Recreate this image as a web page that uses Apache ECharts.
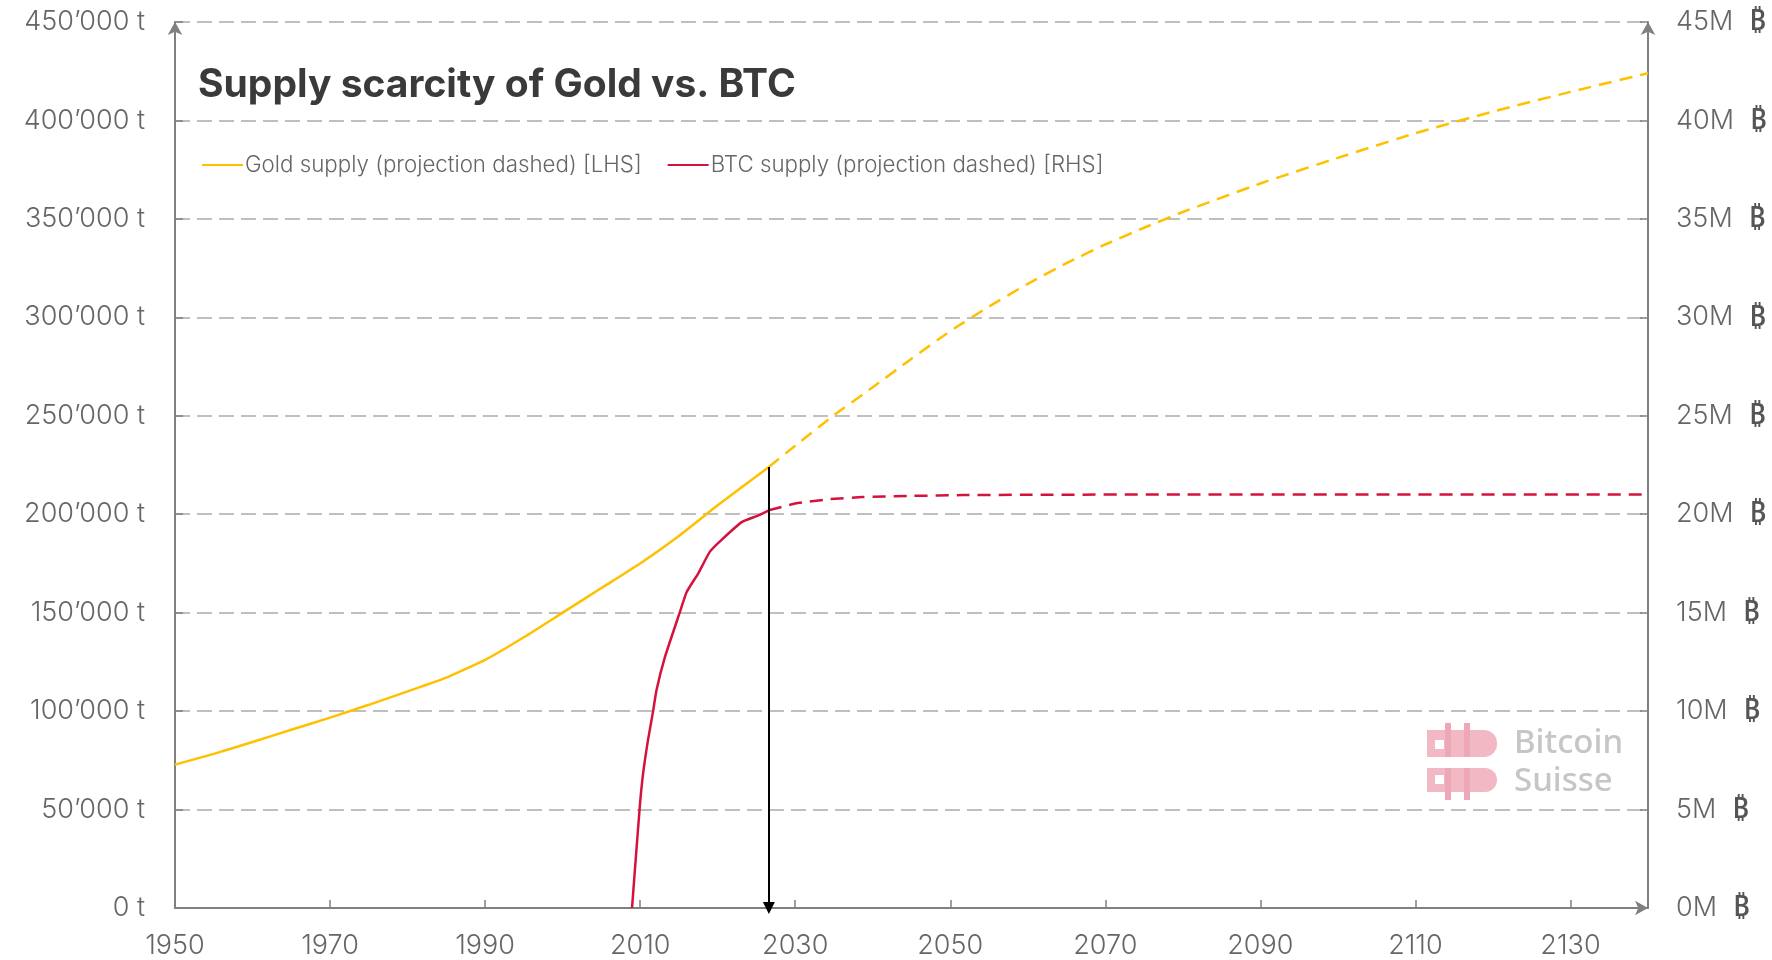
<!DOCTYPE html>
<html>
<head>
<meta charset="utf-8">
<title>Supply scarcity of Gold vs. BTC</title>
<script src="https://cdn.jsdelivr.net/npm/echarts@6/dist/echarts.min.js"></script>
<style>
  html, body { margin: 0; padding: 0; background: #fff; }
  #chart { width: 1772px; height: 960px; }
</style>
</head>
<body>
<div id="chart"></div>
<script>
// gold above-ground stock, tonnes
const goldYears = [1950, 1955, 1960, 1965, 1970, 1975, 1980, 1985, 1990, 1995, 2000, 2005, 2010, 2015, 2020, 2026.6];
const goldTonnes = [72800, 78300, 84300, 90500, 96700, 103200, 110000, 117000, 126000, 137500, 150000, 162500, 175000, 189000, 204500, 224000];
const goldProjYears = [2026.6, 2030, 2035, 2040, 2045, 2050, 2055, 2060, 2065, 2070, 2075, 2080, 2090, 2100, 2110, 2120, 2130, 2140];
const goldProjTonnes = [224000, 234800, 250300, 264500, 279000, 293000, 305500, 317000, 327500, 337000, 345500, 353500, 368000, 381000, 393500, 404500, 414500, 424000];

// bitcoin supply, millions of coins
const btcYears = [2008.95, 2009.94, 2010.37, 2011.0, 2011.65, 2012.1, 2013.2, 2015.1, 2016.0, 2017.5, 2019.0, 2020.5, 2023.1, 2025.25, 2026.6];
const btcSupply = [0, 5.1, 6.8, 8.5, 9.95, 11.05, 12.75, 15.0, 16.05, 17.0, 18.1, 18.7, 19.6, 19.94, 20.2];
const btcProjYears = [2026.6, 2030, 2034.3, 2038.6, 2045, 2051.6, 2060, 2080, 2100, 2140];
const btcProjSupply = [20.2, 20.54, 20.76, 20.87, 20.93, 20.97, 20.99, 21.0, 21.0, 21.0];

const arrowYear = 2026.6;
const arrowTop = 224000;

const goldName = "Gold supply (projection dashed) [LHS]";
const btcName = "BTC supply (projection dashed) [RHS]";
const GOLD = "#FFC000";
const RED = "#D4133D";

const zip = (xs, ys) => xs.map((x, i) => [x, ys[i]]);
const tonnes = (v) => String(v).replace(/\B(?=(\d{3})+(?!\d))/g, "\u2019") + " t";

const axisGrey = "#808080";
const labelFont = { fontFamily: "Inter", fontWeight: 300, fontSize: 27, color: "#666" };

const chart = echarts.init(document.getElementById("chart"));
chart.setOption({
  backgroundColor: "#fff",
  animation: false,
  title: {
    text: "Supply scarcity of Gold vs. BTC",
    left: 193,
    top: 61,
    textStyle: { fontFamily: "Inter", fontWeight: "bold", fontSize: 39, color: "#3a3a3a" },
  },
  legend: {
    left: 197,
    top: 149,
    itemWidth: 41,
    itemHeight: 2,
    itemGap: 26,
    icon: "rect",
    textStyle: { fontFamily: "Inter", fontWeight: 300, fontSize: 22.3, color: "#666", padding: [0, 0, 0, -3] },
    data: [
      { name: goldName, itemStyle: { color: GOLD } },
      { name: btcName, itemStyle: { color: RED } },
    ],
  },
  grid: { left: 175, right: 124, top: 22, bottom: 52 },
  xAxis: {
    type: "value",
    min: 1950,
    max: 2140,
    interval: 20,
    axisLine: { lineStyle: { color: axisGrey, width: 2 }, symbol: ["none", "arrow"], symbolSize: [11, 13] },
    axisTick: { inside: true, length: 8, lineStyle: { color: axisGrey, width: 1.5 } },
    splitLine: { show: false },
    axisLabel: {
      ...labelFont,
      margin: 24,
      formatter: (v) => ((v - 1950) % 20 === 0 && v < 2140 ? String(v) : ""),
    },
  },
  yAxis: [
    {
      type: "value",
      min: 0,
      max: 450000,
      interval: 50000,
      axisLine: { show: true, lineStyle: { color: axisGrey, width: 2 }, symbol: ["none", "arrow"], symbolSize: [11, 13] },
      axisTick: { show: true, inside: true, length: 8, lineStyle: { color: axisGrey, width: 1.5 } },
      splitLine: { show: true, lineStyle: { color: "#BFBFBF", width: 2, type: [15, 7] } },
      axisLabel: { ...labelFont, margin: 30, formatter: tonnes },
    },
    {
      type: "value",
      min: 0,
      max: 45,
      interval: 5,
      position: "right",
      axisLine: { show: true, lineStyle: { color: axisGrey, width: 2 }, symbol: ["none", "arrow"], symbolSize: [11, 13] },
      axisTick: { show: true, inside: true, length: 8, lineStyle: { color: axisGrey, width: 1.5 } },
      splitLine: { show: false },
      axisLabel: {
        margin: 28,
        formatter: (v) => "{a|" + v + "M}{b|\u20BF}",
        rich: {
          a: { ...labelFont },
          b: { fontFamily: "Noto Sans", fontWeight: 500, fontSize: 29, color: "#555", padding: [0, 0, 0, 16] },
        },
      },
    },
  ],
  series: [
    {
      name: goldName,
      type: "line",
      yAxisIndex: 0,
      data: zip(goldYears, goldTonnes),
      smooth: 0.15,
      showSymbol: false,
      lineStyle: { color: GOLD, width: 2.5 },
      itemStyle: { color: GOLD },
      z: 3,
      markLine: {
        silent: true,
        symbol: ["none", "triangle"],
        symbolSize: [12, 12],
        label: { show: false },
        lineStyle: { color: "#000", width: 2, type: "solid" },
        data: [[{ coord: [arrowYear, arrowTop] }, { coord: [arrowYear, 0] }]],
      },
    },
    {
      name: goldName,
      type: "line",
      yAxisIndex: 0,
      data: zip(goldProjYears, goldProjTonnes),
      smooth: 0.15,
      showSymbol: false,
      lineStyle: { color: GOLD, width: 2.5, type: [13, 8] },
      itemStyle: { color: GOLD },
      z: 3,
    },
    {
      name: btcName,
      type: "line",
      yAxisIndex: 1,
      data: zip(btcYears, btcSupply),
      smooth: 0.15,
      showSymbol: false,
      lineStyle: { color: RED, width: 2.5 },
      itemStyle: { color: RED },
      z: 3,
    },
    {
      name: btcName,
      type: "line",
      yAxisIndex: 1,
      data: zip(btcProjYears, btcProjSupply),
      smooth: 0.15,
      showSymbol: false,
      lineStyle: { color: RED, width: 2.5, type: [13, 8] },
      itemStyle: { color: RED },
      z: 3,
    },
  ],
  graphic: [
    // Bitcoin Suisse watermark
    {
      type: "group",
      left: 1427,
      top: 723,
      silent: true,
      children: [
        { type: "rect", shape: { x: 0, y: 7, width: 36, height: 27 }, style: { fill: "#F2B8C4" } },
        { type: "rect", shape: { x: 36, y: 7, width: 34, height: 27, r: [0, 13, 13, 0] }, style: { fill: "#F2B8C4" } },
        { type: "rect", shape: { x: 18, y: 0, width: 6, height: 34 }, style: { fill: "#EDA7B6" } },
        { type: "rect", shape: { x: 37, y: 0, width: 6, height: 34 }, style: { fill: "#EDA7B6" } },
        { type: "rect", shape: { x: 8, y: 17, width: 9, height: 9 }, style: { fill: "#fff" } },
        { type: "rect", shape: { x: 0, y: 45, width: 36, height: 24 }, style: { fill: "#F2B8C4" } },
        { type: "rect", shape: { x: 36, y: 45, width: 34, height: 24, r: [0, 12, 12, 0] }, style: { fill: "#F2B8C4" } },
        { type: "rect", shape: { x: 18, y: 45, width: 6, height: 32 }, style: { fill: "#EDA7B6" } },
        { type: "rect", shape: { x: 37, y: 45, width: 6, height: 32 }, style: { fill: "#EDA7B6" } },
        { type: "rect", shape: { x: 8, y: 52, width: 9, height: 9 }, style: { fill: "#fff" } },
        {
          type: "text",
          x: 87,
          y: 4,
          style: { text: "Bitcoin", fontFamily: "Noto Sans", fontWeight: 500, fontSize: 33, fill: "#C6C6C6" },
        },
        {
          type: "text",
          x: 87,
          y: 42,
          style: { text: "Suisse", fontFamily: "Noto Sans", fontWeight: 500, fontSize: 33, fill: "#C6C6C6" },
        },
      ],
    },
  ],
});

window.onresize = function () {
  chart.resize();
};
</script>
</body>
</html>
